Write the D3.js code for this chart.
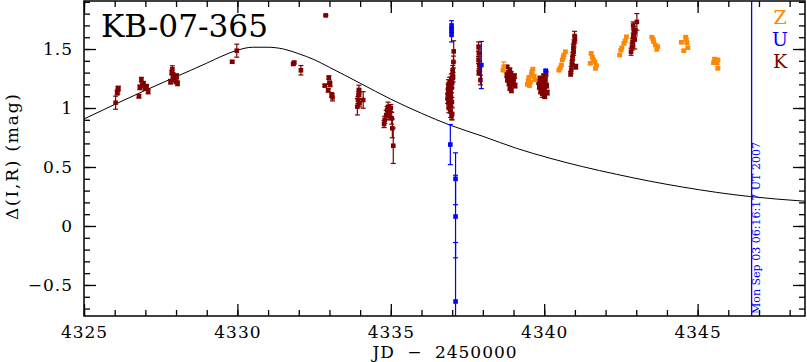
<!DOCTYPE html>
<meta charset="utf-8">
<body id="chart" style="margin:0;background:#fff"></body>

<script type="text/javascript" src="https://cdn.jsdelivr.net/npm/d3@7"></script>
<script>
//event name and timestamp
var title = "KB-07-365";
var stamp = "Mon Sep 03 06:16:17 UT 2007";
var stampJD = 4346.76;

//axis ticks
var xMajor = [4325, 4330, 4335, 4340, 4345];
var yMajor = [-0.5, 0, 0.5, 1, 1.5];

//K band points: [JD-2450000, mag, err]
var dataK = [
  [4326.03, 1.045, 0.055], [4326.08, 1.13, 0.02], [4326.10, 1.15, 0.03], [4326.12, 1.165, 0.02],
  [4326.79, 1.10, 0.015], [4326.82, 1.175, 0.02], [4326.87, 1.24, 0.02], [4326.90, 1.19, 0.02],
  [4326.94, 1.205, 0.02], [4326.99, 1.17, 0.02], [4327.04, 1.18, 0.02], [4327.09, 1.14, 0.02],
  [4327.82, 1.223, 0.02], [4327.86, 1.30, 0.02], [4327.88, 1.328, 0.03], [4327.90, 1.28, 0.02],
  [4327.93, 1.24, 0.02], [4327.96, 1.254, 0.02], [4328.02, 1.27, 0.02], [4328.05, 1.209, 0.02],
  [4328.00, 1.225, 0.02],
  [4329.83, 1.392, 0.01], [4329.98, 1.486, 0.055],
  [4331.82, 1.373, 0.01], [4331.85, 1.385, 0.01], [4332.07, 1.32, 0.04],
  [4332.88, 1.785, 0.005],
  [4332.85, 1.19, 0.01], [4332.98, 1.257, 0.015], [4333.02, 1.20, 0.02], [4333.00, 1.215, 0.01],
  [4332.96, 1.15, 0.015], [4333.07, 1.11, 0.02], [4333.10, 1.09, 0.03],
  [4333.91, 1.011, 0.07], [4333.93, 1.068, 0.03], [4333.95, 1.11, 0.03], [4333.96, 1.153, 0.04],
  [4333.98, 1.04, 0.03], [4333.97, 1.13, 0.03], [4334.10, 1.068, 0.07],
  [4334.78, 0.864, 0.03], [4334.80, 0.90, 0.03], [4334.85, 0.94, 0.04], [4334.88, 0.983, 0.03],
  [4334.91, 1.01, 0.04], [4334.94, 0.93, 0.03], [4334.96, 0.97, 0.04], [4335.00, 1.00, 0.03],
  [4335.03, 0.913, 0.05], [4335.05, 0.828, 0.08], [4335.08, 0.68, 0.15],
  [4336.85, 1.08, 0.04], [4336.86, 1.12, 0.04], [4336.87, 1.16, 0.04], [4336.88, 1.20, 0.04],
  [4336.88, 1.04, 0.04], [4336.89, 1.00, 0.04], [4336.90, 1.10, 0.04], [4336.90, 1.14, 0.04],
  [4336.92, 1.18, 0.04], [4336.92, 1.22, 0.04], [4336.93, 1.06, 0.04], [4336.94, 1.02, 0.04],
  [4336.95, 0.97, 0.05], [4336.95, 1.13, 0.04], [4336.96, 1.09, 0.04], [4336.97, 1.25, 0.04],
  [4336.98, 1.17, 0.04], [4336.99, 1.05, 0.04], [4337.00, 1.21, 0.04], [4337.00, 0.95, 0.05],
  [4337.01, 1.28, 0.04], [4337.02, 1.32, 0.04], [4337.03, 1.26, 0.04], [4337.04, 1.39, 0.05],
  [4337.05, 1.48, 0.09], [4336.98, 0.93, 0.03],
  [4337.86, 1.52, 0.04], [4337.87, 1.463, 0.03], [4337.86, 1.407, 0.03], [4337.88, 1.364, 0.03],
  [4337.90, 1.34, 0.03], [4337.87, 1.30, 0.02], [4337.92, 1.237, 0.04],
  [4338.79, 1.35, 0.01], [4338.78, 1.28, 0.02], [4338.80, 1.24, 0.02], [4338.83, 1.30, 0.02],
  [4338.85, 1.21, 0.02], [4338.86, 1.26, 0.02], [4338.88, 1.17, 0.02], [4338.90, 1.23, 0.02],
  [4338.92, 1.29, 0.02], [4338.93, 1.15, 0.02], [4338.95, 1.20, 0.02], [4338.98, 1.25, 0.02],
  [4339.00, 1.22, 0.02], [4339.03, 1.27, 0.02], [4339.05, 1.19, 0.02], [4338.88, 1.32, 0.02],
  [4339.82, 1.22, 0.02], [4339.84, 1.18, 0.02], [4339.86, 1.25, 0.02], [4339.88, 1.14, 0.02],
  [4339.90, 1.20, 0.02], [4339.92, 1.23, 0.02], [4339.94, 1.12, 0.03], [4339.96, 1.17, 0.02],
  [4339.98, 1.27, 0.02], [4340.00, 1.21, 0.02], [4340.02, 1.15, 0.02], [4340.04, 1.24, 0.02],
  [4340.06, 1.29, 0.02], [4340.08, 1.19, 0.02], [4340.10, 1.13, 0.02], [4340.02, 1.10, 0.02],
  [4340.99, 1.61, 0.04], [4341.00, 1.58, 0.03], [4340.97, 1.548, 0.03], [4340.95, 1.51, 0.03],
  [4340.96, 1.477, 0.03], [4340.93, 1.44, 0.03], [4340.92, 1.407, 0.03], [4340.90, 1.37, 0.03],
  [4340.88, 1.322, 0.03], [4340.86, 1.29, 0.02], [4341.03, 1.35, 0.02],
  [4343.02, 1.73, 0.07], [4342.90, 1.70, 0.03], [4342.93, 1.66, 0.03], [4342.92, 1.63, 0.03],
  [4342.90, 1.604, 0.03], [4342.88, 1.562, 0.03], [4342.86, 1.52, 0.03], [4342.83, 1.477, 0.03],
  [4342.95, 1.58, 0.08], [4342.97, 1.64, 0.03]
];

//Z band points
var dataZ = [
  [4338.68, 1.35, 0.04], [4338.66, 1.32, 0.01],
  [4339.45, 1.20, 0.01], [4339.48, 1.23, 0.01], [4339.50, 1.26, 0.01], [4339.55, 1.22, 0.01],
  [4339.58, 1.28, 0.01], [4339.60, 1.31, 0.01], [4339.63, 1.33, 0.01], [4339.67, 1.27, 0.01],
  [4339.70, 1.24, 0.01], [4339.52, 1.19, 0.01],
  [4340.48, 1.32, 0.01], [4340.52, 1.34, 0.01], [4340.56, 1.364, 0.01], [4340.59, 1.407, 0.01],
  [4340.62, 1.43, 0.01], [4340.64, 1.449, 0.01], [4340.69, 1.477, 0.01],
  [4341.50, 1.379, 0.01], [4341.53, 1.463, 0.01], [4341.57, 1.43, 0.01], [4341.60, 1.41, 0.01],
  [4341.65, 1.39, 0.01], [4341.67, 1.336, 0.01], [4341.70, 1.36, 0.01],
  [4342.46, 1.449, 0.01], [4342.50, 1.49, 0.01], [4342.53, 1.51, 0.01], [4342.60, 1.548, 0.01],
  [4342.64, 1.57, 0.01], [4342.68, 1.604, 0.01],
  [4343.51, 1.60, 0.01], [4343.55, 1.58, 0.01], [4343.57, 1.562, 0.01], [4343.62, 1.534, 0.01],
  [4343.67, 1.497, 0.01], [4343.70, 1.52, 0.01],
  [4344.47, 1.557, 0.01], [4344.61, 1.60, 0.01], [4344.63, 1.58, 0.01], [4344.65, 1.553, 0.01],
  [4344.68, 1.511, 0.01], [4344.55, 1.486, 0.01],
  [4345.55, 1.415, 0.01], [4345.60, 1.41, 0.01], [4345.66, 1.407, 0.01], [4345.52, 1.384, 0.01],
  [4345.63, 1.38, 0.01], [4345.66, 1.336, 0.01]
];

//U band points
var dataU = [
  [4336.98, 1.70, 0.04], [4336.98, 1.66, 0.02], [4336.98, 1.62, 0.06],
  [4336.94, 0.69, 0.17], [4337.11, 0.40, 0.22], [4337.11, 0.08, 0.35], [4337.11, -0.64, 0.5],
  [4337.95, 1.364, 0.2], [4340.05, 1.316, 0.01]
];

//model curve
var curveT = [4325.0, 4326.0, 4327.0, 4328.0, 4329.0, 4329.5, 4330.0, 4330.5, 4331.0, 4331.5,
  4332.0, 4332.5, 4333.0, 4334.0, 4335.0, 4336.0, 4336.92, 4338.0, 4339.1, 4340.18,
  4341.25, 4342.36, 4343.44, 4344.51, 4345.62, 4346.69, 4348.5];
var curveMag = [0.907, 1.03, 1.15, 1.265, 1.38, 1.44, 1.49, 1.515, 1.515, 1.50,
  1.46, 1.41, 1.345, 1.21, 1.075, 0.955, 0.856, 0.76, 0.658, 0.575,
  0.503, 0.438, 0.38, 0.33, 0.285, 0.25, 0.21];

var bands = [
  {name: "Z", color: "#ff8800", data: dataZ},
  {name: "U", color: "#0000ff", data: dataU},
  {name: "K", color: "#800000", data: dataK}
];

//svg size and plot box
var width = 807, height = 362;
var box = {left: 84, right: 805, top: 1, bottom: 316};
var font = "'DejaVu Serif', serif";

var x = d3.scaleLinear().domain([4325, 4348.5]).range([box.left, box.right]);
var y = d3.scaleLinear().domain([-0.763, 1.907]).range([box.bottom, box.top]);

var svg = d3.select("#chart").append("svg")
    .attr("width", width)
    .attr("height", height)
    .style("display", "block");

svg.append("clipPath").attr("id", "clip")
  .append("rect")
    .attr("x", box.left).attr("y", box.top)
    .attr("width", box.right - box.left).attr("height", box.bottom - box.top);

var plot = svg.append("g").attr("clip-path", "url(#clip)");

//model curve
var line = d3.line()
    .x(function (d) { return x(d[0]); })
    .y(function (d) { return y(d[1]); })
    .curve(d3.curveMonotoneX);
plot.append("path")
    .datum(curveT.map(function (t, i) { return [t, curveMag[i]]; }))
    .attr("d", line)
    .attr("fill", "none")
    .attr("stroke", "#000")
    .attr("stroke-width", 1);

//timestamp line
plot.append("line")
    .attr("x1", x(stampJD)).attr("x2", x(stampJD))
    .attr("y1", box.top).attr("y2", box.bottom)
    .attr("stroke", "#0000ff").attr("stroke-width", 1.3);

//points with error bars, K drawn first like the original
[bands[2], bands[0], bands[1]].forEach(function (b) {
  var g = plot.append("g").attr("stroke", b.color).attr("fill", b.color);
  var pts = g.selectAll(".pt").data(b.data).enter().append("g").attr("class", "pt");
  pts.append("line")
      .attr("x1", function (d) { return x(d[0]); })
      .attr("x2", function (d) { return x(d[0]); })
      .attr("y1", function (d) { return y(d[1] - d[2]); })
      .attr("y2", function (d) { return y(d[1] + d[2]); })
      .attr("stroke-width", 1.2);
  [-1, 1].forEach(function (s) {
    pts.append("line")
        .attr("x1", function (d) { return x(d[0]) - 2.5; })
        .attr("x2", function (d) { return x(d[0]) + 2.5; })
        .attr("y1", function (d) { return y(d[1] + s * d[2]); })
        .attr("y2", function (d) { return y(d[1] + s * d[2]); })
        .attr("stroke-width", 1.2);
  });
  pts.append("rect")
      .attr("x", function (d) { return x(d[0]) - 2.3; })
      .attr("y", function (d) { return y(d[1]) - 2.3; })
      .attr("width", 4.6).attr("height", 4.6)
      .attr("stroke", "none");
});

//frame
svg.append("rect")
    .attr("x", box.left).attr("y", box.top)
    .attr("width", box.right - box.left).attr("height", box.bottom - box.top)
    .attr("fill", "none").attr("stroke", "#000").attr("stroke-width", 1.5);

//ticks on all four sides, pointing inward
function ticks(axis, values, size, labels) {
  return axis.tickValues(values).tickSizeInner(-size).tickSizeOuter(0)
    .tickFormat(labels ? d3.format("") : "");
}
var xMinor = d3.range(4325, 4349, 1);
var yMinor = d3.range(-7, 20).map(function (v) { return v / 10; });

function drawAxis(gen, tr) {
  var g = svg.append("g").attr("transform", tr).call(gen);
  g.select(".domain").remove();
  g.selectAll("line").attr("stroke", "#000").attr("stroke-width", 1.3);
  return g;
}

drawAxis(ticks(d3.axisBottom(x), xMinor, 6, false), "translate(0," + box.bottom + ")");
drawAxis(ticks(d3.axisTop(x), xMinor, 6, false), "translate(0," + box.top + ")");
drawAxis(ticks(d3.axisLeft(y), yMinor, 6, false), "translate(" + box.left + ",0)");
drawAxis(ticks(d3.axisRight(y), yMinor, 6, false), "translate(" + box.right + ",0)");

var gx = drawAxis(ticks(d3.axisBottom(x), xMajor, 12, true).tickPadding(10), "translate(0," + box.bottom + ")");
drawAxis(ticks(d3.axisTop(x), xMajor, 12, false), "translate(0," + box.top + ")");
var gy = drawAxis(ticks(d3.axisLeft(y), yMajor, 12, true).tickPadding(11)
    .tickFormat(function (d) { return d3.format("")(d).replace("-", "\u2212"); }), "translate(" + box.left + ",0)");
drawAxis(ticks(d3.axisRight(y), yMajor, 12, false), "translate(" + box.right + ",0)");

gx.selectAll("text").attr("font-family", font).attr("font-size", 17).attr("fill", "#000")
    .attr("letter-spacing", "1px");
gy.selectAll("text").attr("font-family", font).attr("font-size", 17).attr("fill", "#000")
    .attr("letter-spacing", "1px");

//axis titles
svg.append("text")
    .attr("x", 445).attr("y", 358)
    .attr("text-anchor", "middle")
    .attr("font-family", font).attr("font-size", 17)
    .attr("letter-spacing", "1px")
    .style("word-spacing", "6px")
    .text("JD \u2212 2450000");

svg.append("text")
    .attr("transform", "translate(18,157) rotate(-90)")
    .attr("text-anchor", "middle")
    .attr("font-family", font).attr("font-size", 17)
    .attr("textLength", 126).attr("lengthAdjust", "spacing")
    .text("\u0394(I,R) (mag)");

//title
svg.append("text")
    .attr("x", 101).attr("y", 37)
    .attr("font-family", font).attr("font-size", 31)
    .attr("textLength", 167).attr("lengthAdjust", "spacingAndGlyphs")
    .text(title);

//legend
svg.selectAll(".legend").data(bands).enter().append("text")
    .attr("class", "legend")
    .attr("x", 780)
    .attr("y", function (d, i) { return 24 + i * 22; })
    .attr("text-anchor", "middle")
    .attr("font-family", font).attr("font-size", 19)
    .attr("fill", function (d) { return d.color; })
    .text(function (d) { return d.name; });

//timestamp text along the line
svg.append("text")
    .attr("transform", "translate(" + (x(stampJD) + 8) + ",314) rotate(-90)")
    .attr("font-family", font).attr("font-size", 11)
    .attr("fill", "#0000ff")
    .attr("textLength", 172).attr("lengthAdjust", "spacingAndGlyphs")
    .text(stamp);
</script>
